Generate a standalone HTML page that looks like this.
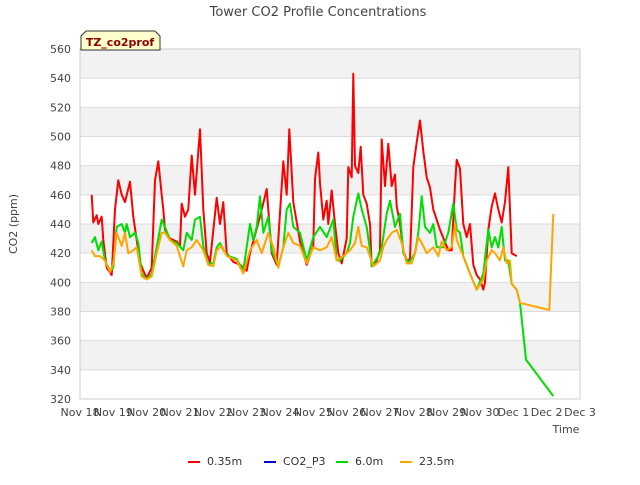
<!DOCTYPE html>
<html><head><meta charset="utf-8"><style>
body{margin:0;background:#fff;font-family:"Liberation Sans","DejaVu Sans",sans-serif}
svg text{font-family:"DejaVu Sans","Liberation Sans",sans-serif}
</style></head><body>
<svg id="chart" width="640" height="480" xmlns="http://www.w3.org/2000/svg">
<text x="318" y="16" text-anchor="middle" font-size="13" fill="#444">Tower CO2 Profile Concentrations</text>
<g id="grid"></g><g id="series"></g><g id="axes"></g>
<text transform="translate(17,224) rotate(-90)" text-anchor="middle" font-size="11" fill="#444">CO2 (ppm)</text>
<text x="566" y="433" text-anchor="middle" font-size="11" fill="#444">Time</text>
<g>
<path d="M81,36 L86,31 L155,31 L160,36 L160,50 L81,50 Z" fill="#ffffcc" stroke="#333" stroke-width="1"/>
<text x="120" y="46" text-anchor="middle" font-size="11" font-weight="bold" fill="#8b0000">TZ_co2prof</text></g>
<g id="legend"></g>
</svg>
<script>
const yTicks=[320,340,360,380,400,420,440,460,480,500,520,540,560];
const xTickLabels=["Nov 18","Nov 19","Nov 20","Nov 21","Nov 22","Nov 23","Nov 24","Nov 25","Nov 26","Nov 27","Nov 28","Nov 29","Nov 30","Dec 1","Dec 2","Dec 3"];
const seriesNames=["0.35m","CO2_P3","6.0m","23.5m"];
const seriesColors=["#ff0000","#0000cc","#00dd00","#ffa500"];
const redT=[0.35,0.4,0.5,0.55,0.65,0.7,0.8,0.95,1.05,1.15,1.25,1.35,1.5,1.6,1.7,1.8,1.9,2.0,2.15,2.25,2.35,2.45,2.5,2.55,2.7,2.9,3.0,3.05,3.15,3.25,3.35,3.45,3.6,3.7,3.8,3.9,4.1,4.2,4.3,4.4,4.6,4.8,5.0,5.1,5.4,5.6,5.75,5.9,6.1,6.2,6.28,6.4,6.6,6.8,7.0,7.05,7.15,7.2,7.3,7.4,7.45,7.55,7.65,7.75,7.85,8.0,8.05,8.15,8.2,8.25,8.35,8.42,8.5,8.6,8.7,8.75,8.9,9.0,9.05,9.15,9.25,9.35,9.45,9.5,9.6,9.7,9.8,9.9,10.0,10.1,10.2,10.3,10.4,10.5,10.6,10.8,11.05,11.15,11.25,11.3,11.4,11.5,11.6,11.7,11.8,11.9,12.0,12.1,12.15,12.25,12.35,12.45,12.55,12.65,12.75,12.85,12.95,13.1];
const redV=[460,441,446,440,445,429,410,405,450,470,460,455,469,445,429,414,408,403,410,470,483,460,450,436,430,428,425,454,445,450,487,460,505,450,420,414,458,440,455,420,414,412,408,420,445,464,420,412,483,460,505,455,428,412,425,471,489,468,443,456,440,463,440,420,413,430,479,472,543,480,475,493,460,454,440,411,415,422,498,466,495,466,474,452,440,422,415,416,479,496,511,490,472,465,450,436,422,422,466,484,478,440,431,440,412,405,402,395,400,436,452,461,450,441,455,479,420,418,398];
const greenT=[0.35,0.45,0.55,0.65,0.75,0.9,1.0,1.1,1.25,1.35,1.4,1.5,1.65,1.75,1.85,2.0,2.15,2.3,2.45,2.55,2.7,2.9,3.1,3.2,3.35,3.45,3.6,3.7,3.85,4.0,4.1,4.2,4.3,4.45,4.7,4.9,5.1,5.2,5.3,5.4,5.5,5.65,5.75,5.95,6.1,6.2,6.3,6.4,6.6,6.8,7.0,7.2,7.4,7.6,7.7,7.8,8.0,8.1,8.2,8.35,8.45,8.6,8.7,8.75,8.95,9.05,9.2,9.3,9.45,9.6,9.7,9.85,10.05,10.15,10.25,10.35,10.5,10.6,10.7,10.9,11.05,11.2,11.3,11.4,11.5,11.7,11.9,12.1,12.25,12.35,12.45,12.55,12.65,12.75,12.85,12.95,13.1,13.2,13.38,14.2];
const greenV=[427,431,422,428,415,408,410,438,440,434,440,431,434,427,406,402,406,424,443,438,429,427,422,434,429,443,445,425,413,413,424,427,422,418,416,408,440,429,438,459,434,445,422,411,424,450,454,438,434,415,431,438,431,443,415,415,420,427,445,461,450,438,422,411,418,424,447,456,438,447,420,413,420,434,459,438,434,440,424,424,434,454,436,434,418,406,395,406,436,424,431,424,438,415,415,399,395,386,347,322];
const orangeT=[0.35,0.45,0.6,0.75,0.9,1.0,1.1,1.25,1.35,1.45,1.6,1.7,1.85,2.0,2.15,2.3,2.45,2.55,2.7,2.9,3.1,3.2,3.35,3.5,3.7,3.85,4.0,4.1,4.25,4.4,4.7,4.9,5.1,5.3,5.45,5.65,5.8,5.95,6.1,6.25,6.4,6.6,6.8,7.0,7.2,7.4,7.55,7.7,7.9,8.1,8.25,8.35,8.45,8.6,8.7,8.8,9.0,9.1,9.2,9.35,9.5,9.65,9.8,9.95,10.05,10.15,10.25,10.4,10.6,10.75,10.85,11.0,11.15,11.25,11.3,11.5,11.7,11.9,12.1,12.2,12.35,12.45,12.6,12.7,12.8,12.9,12.95,13.1,13.2,14.08,14.2];
const orangeV=[422,418,418,415,407,413,434,425,434,420,422,424,404,402,404,420,434,434,429,425,411,422,424,429,422,412,411,422,425,418,415,406,422,429,420,434,424,410,424,434,427,425,413,424,422,424,431,415,418,422,427,438,425,424,418,411,415,424,429,434,436,427,413,413,420,431,427,420,424,418,428,422,424,440,429,418,406,395,402,415,422,420,415,424,413,415,399,395,386,381,447];
const NS="http://www.w3.org/2000/svg";
const L=80,R=580,T=49,B=399,yMin=320,yMax=560,dMax=15;
function xS(d){return L+(R-L)*d/dMax;}
function yS(v){return B-(B-T)*(v-yMin)/(yMax-yMin);}
function mk(tag,attrs,parent){const e=document.createElementNS(NS,tag);for(const k in attrs)e.setAttribute(k,attrs[k]);parent.appendChild(e);return e;}
const grid=document.getElementById('grid'),axes=document.getElementById('axes'),ser=document.getElementById('series'),leg=document.getElementById('legend');
for(let i=0;i<yTicks.length-1;i++){
 if((yTicks.length-2-i)%2===0){const r=mk('rect',{x:L,y:yS(yTicks[i+1]),width:R-L,height:yS(yTicks[i])-yS(yTicks[i+1]),fill:'#f2f2f2'},grid);
 
 }
}
yTicks.forEach(v=>{
 const l=mk('line',{x1:L,x2:R,y1:yS(v),y2:yS(v),stroke:'#dcdcdc','stroke-width':1},grid);
 
 
 const t=mk('text',{x:L-9,y:yS(v)+4,'text-anchor':'end','font-size':11,fill:'#444'},axes);
 
 
 t.textContent=v;
});
xTickLabels.forEach((s,i)=>{
 const t=mk('text',{x:xS(i),y:416,'text-anchor':'middle','font-size':11,fill:'#444'},axes);
 
 
 t.textContent=s;
});
const fr=mk('rect',{x:L,y:T,width:R-L,height:B-T,fill:'none',stroke:'#ccc'},axes);


function line(ts,vs,color,name){
 const n=Math.min(ts.length,vs.length);
 const pts=[];for(let i=0;i<n;i++)pts.push(xS(ts[i]).toFixed(1)+','+yS(vs[i]).toFixed(1));
 const p=mk('polyline',{points:pts.join(' '),fill:'none',stroke:color,'stroke-width':2,'stroke-linejoin':'round'},ser);
 
 
}
line(redT,redV,seriesColors[0],'series-0-35m');
line(greenT,greenV,seriesColors[2],'series-6-0m');
line(orangeT,orangeV,seriesColors[3],'series-23-5m');
const lx=[188,264,336,400];
seriesNames.forEach((n,i)=>{
 const g=mk('g',{},leg);
 
 
 mk('line',{x1:lx[i],x2:lx[i]+12,y1:462,y2:462,stroke:seriesColors[i],'stroke-width':2},g);
 const t=mk('text',{x:lx[i]+19,y:465,'font-size':11,fill:'#333'},g);
 t.textContent=n;
});
</script>
</body></html>
